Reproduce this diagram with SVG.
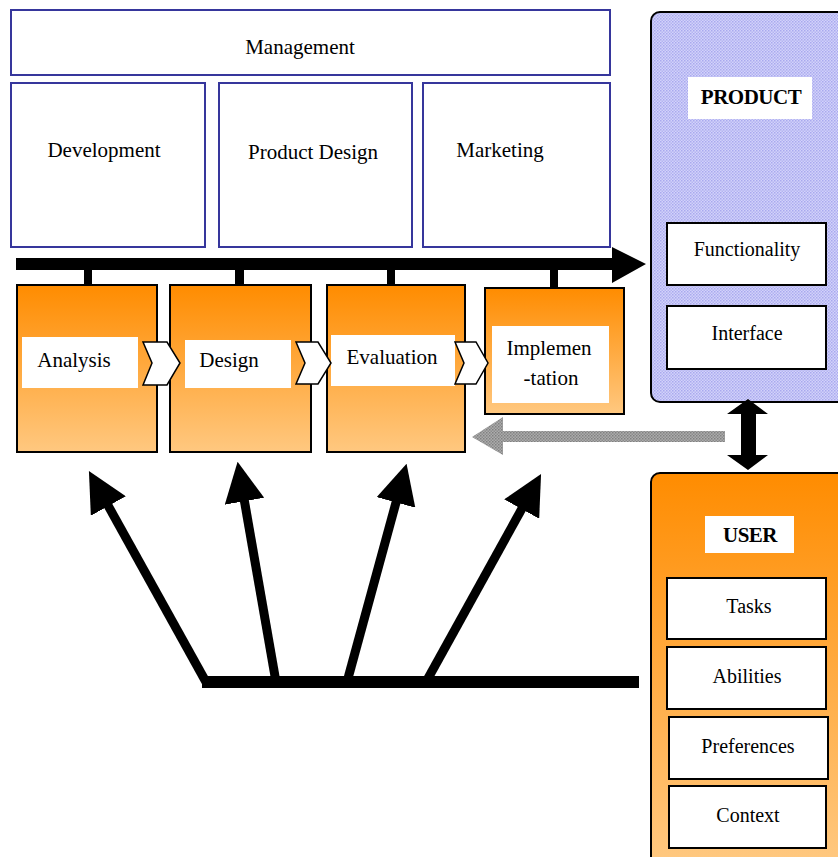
<svg xmlns="http://www.w3.org/2000/svg" width="838" height="857" viewBox="0 0 838 857">
<defs>
<style>
text{font-family:"Liberation Serif","Times New Roman","DejaVu Serif",serif;fill:#000;text-anchor:middle}
.org{fill:#fff;stroke:#36369c;stroke-width:2}
.t{font-size:21px}
.ts{font-size:20px}
.tb{font-size:21px;font-weight:bold;letter-spacing:-0.5px}
.step{fill:url(#og);stroke:#000;stroke-width:2}
.lbl{fill:#fff}
.box{fill:#fff;stroke:#000;stroke-width:2}
.chev{fill:#fff;stroke:#000;stroke-width:1.5;stroke-linejoin:miter}
.blk{fill:#000}
.arr{stroke:#000;stroke-width:9;fill:none;marker-end:url(#ah)}
</style>
<linearGradient id="og" x1="0" y1="0" x2="0" y2="1">
<stop offset="0" stop-color="#ff8c00"/>
<stop offset="1" stop-color="#ffc880"/>
</linearGradient>
<linearGradient id="ug" x1="0" y1="0" x2="0" y2="1">
<stop offset="0" stop-color="#ff8c00"/>
<stop offset="1" stop-color="#ffca84"/>
</linearGradient>
<pattern id="pp" width="3" height="3" patternUnits="userSpaceOnUse">
<rect width="3" height="3" fill="#d2d2fb"/>
<rect width="1.5" height="1.5" fill="#a9a9ee"/>
<rect x="1.5" y="1.5" width="1.5" height="1.5" fill="#b4b4f0"/>
</pattern>
<pattern id="gp" width="3" height="3" patternUnits="userSpaceOnUse">
<rect width="3" height="3" fill="#acacac"/>
<rect width="1.5" height="1.5" fill="#808080"/>
<rect x="1.5" y="1.5" width="1.5" height="1.5" fill="#8c8c8c"/>
</pattern>
<marker id="ah" markerUnits="userSpaceOnUse" markerWidth="40" markerHeight="40" viewBox="0 0 36 36" refX="16" refY="18" orient="auto">
<path d="M0,0 L36,18 L0,36 Z" fill="#000"/>
</marker>
</defs>

<g id="management"><rect class="org" x="11" y="10" width="599" height="65"/><text class="t" x="300" y="54">Management</text></g>
<g id="development"><rect class="org" x="11" y="83" width="194" height="164"/><text class="t" x="104" y="157">Development</text></g>
<g id="product-design"><rect class="org" x="219" y="83" width="193" height="164"/><text class="t" x="313" y="159">Product Design</text></g>
<g id="marketing"><rect class="org" x="423" y="83" width="187" height="164"/><text class="t" x="500" y="157">Marketing</text></g>

<g id="product">
<rect x="651" y="12" width="200" height="390" rx="9" fill="url(#pp)" stroke="#000" stroke-width="2"/>
<rect class="lbl" x="688" y="77" width="124" height="42"/>
<text class="tb" x="751" y="104">PRODUCT</text>
</g>
<g id="functionality"><rect class="box" x="667" y="223" width="159" height="62"/><text class="ts" x="747" y="256">Functionality</text></g>
<g id="interface"><rect class="box" x="667" y="306" width="159" height="63"/><text class="ts" x="747" y="340">Interface</text></g>

<g id="user">
<rect x="651" y="473" width="200" height="400" rx="9" fill="url(#ug)" stroke="#000" stroke-width="2"/>
<rect class="lbl" x="705" y="516" width="89" height="37"/>
<text class="tb" x="750" y="542">USER</text>
</g>
<g id="tasks"><rect class="box" x="667" y="578" width="159" height="61"/><text class="ts" x="749" y="613">Tasks</text></g>
<g id="abilities"><rect class="box" x="667" y="647" width="159" height="62"/><text class="ts" x="747" y="683">Abilities</text></g>
<g id="preferences"><rect class="box" x="669" y="717" width="159" height="62"/><text class="ts" x="748" y="753">Preferences</text></g>
<g id="context"><rect class="box" x="669" y="786" width="157" height="62"/><text class="ts" x="748" y="822">Context</text></g>

<g id="connectors">
<path class="blk" d="M16,258 H612 V247 L646,264 L612,283 V270 H16 Z"/>
<rect class="blk" x="84" y="269" width="8" height="17"/>
<rect class="blk" x="235" y="269" width="9" height="17"/>
<rect class="blk" x="387" y="269" width="8" height="17"/>
<rect class="blk" x="550" y="269" width="8" height="19"/>
<path d="M725,431 H503 V417 L472,437 L503,455 V442 H725 Z" fill="url(#gp)"/>
<path class="blk" d="M748,399 L768,414 H756 V455 H768 L748,470 L727,455 H741 V414 H727 Z"/>
<rect class="blk" x="202" y="676" width="437" height="12"/>
<line class="arr" x1="206" y1="682" x2="99.7" y2="490.5"/>
<line class="arr" x1="276" y1="682" x2="241.4" y2="483.7"/>
<line class="arr" x1="347" y1="682" x2="400.7" y2="485.3"/>
<line class="arr" x1="426" y1="682" x2="530.3" y2="493.5"/>
</g>

<g id="analysis"><rect class="step" x="17" y="285" width="140" height="167"/><rect class="lbl" x="22" y="337" width="116" height="51"/><text class="t" x="74" y="367">Analysis</text></g>
<g id="design"><rect class="step" x="170" y="285" width="141" height="167"/><rect class="lbl" x="185" y="340" width="106" height="48"/><text class="t" x="229" y="367">Design</text></g>
<g id="evaluation"><rect class="step" x="327" y="285" width="138" height="167"/><rect class="lbl" x="331" y="335" width="124" height="51"/><text class="t" x="392" y="364">Evaluation</text></g>
<g id="implementation"><rect class="step" x="485" y="288" width="139" height="126"/><rect class="lbl" x="492" y="326" width="117" height="77"/><text class="t" x="549" y="355">Implemen</text><text class="t" x="551" y="385">-tation</text></g>

<g id="chevrons">
<path class="chev" d="M143,342 H167 L180,363 L167,385 H143 L152,363 Z"/>
<path class="chev" d="M296,342 H318 L331,363 L318,384 H296 L305,363 Z"/>
<path class="chev" d="M455,342 H476 L488,363 L476,384 H455 L464,363 Z"/>
</g>
</svg>
